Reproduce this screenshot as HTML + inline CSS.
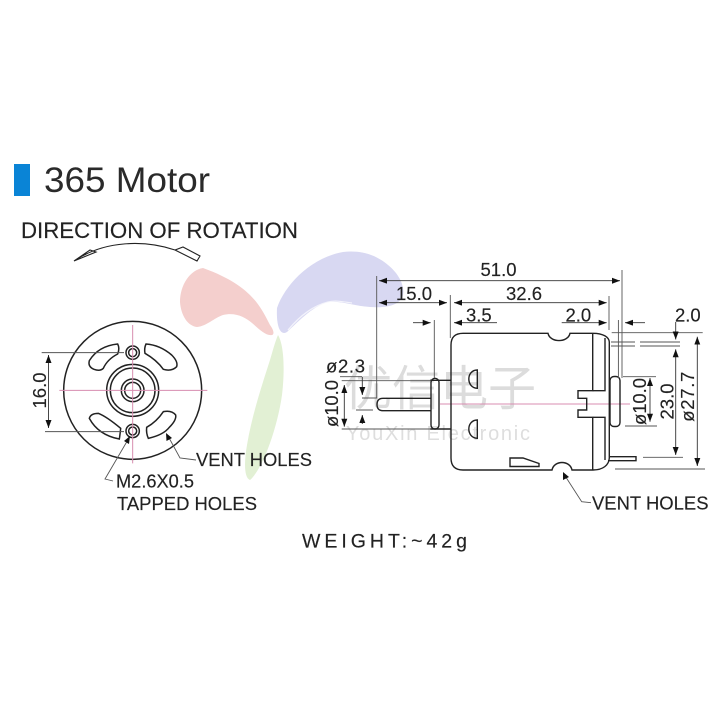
<!DOCTYPE html>
<html><head><meta charset="utf-8"><style>
html,body{margin:0;padding:0;background:#fff;width:718px;height:718px;overflow:hidden}
svg{display:block;filter:blur(.3px)}
text{font-family:"Liberation Sans","Noto Sans CJK SC",sans-serif;fill:#222}
.l{fill:none;stroke:#222;stroke-width:1.4}
.d{fill:none;stroke:#555;stroke-width:.9}
.a{fill:none;stroke:#333;stroke-width:.9;marker-end:url(#m);marker-start:url(#m)}
.e{fill:none;stroke:#333;stroke-width:.9;marker-end:url(#m)}
.p{fill:none;stroke:#d88db0;stroke-width:.9}
.t{font-size:18.500px;stroke:#222;stroke-width:.15}
.b{stroke:#222;stroke-width:.15}
</style></head><body>
<svg width="718" height="718" viewBox="0 0 718 718" xmlns="http://www.w3.org/2000/svg">
<defs>
<marker id="m" markerUnits="userSpaceOnUse" markerWidth="9" markerHeight="7" refX="8" refY="3" orient="auto-start-reverse"><path d="M0 0L8 3L0 6Z" fill="#111"/></marker>
</defs>
<!-- watermark -->
<path d="M203 268C190 270 180 285 180 302C181 316 188 326 197 327C207 326 214 318 223 315C235 312 245 317 252 323C260 330 266 336 272 335C275 334 273 329 270 325C260 305 250 285 203 268Z" fill="#f4cfcd"/>
<path d="M277 308C285 285 310 258 343 252C360 250 375 254 388 265C398 273 405 285 403 295C400 306 385 308 370 307C355 306 342 301 330 302C315 304 300 320 287 332C281 336 276 328 277 308Z" fill="#d8d8f2"/>
<path d="M288 330C298 318 312 306 328 302C336 300 344 302 352 303" fill="none" stroke="#fff" stroke-width="1.2" opacity=".7"/>
<path d="M278 335C284 345 285 370 282 395C277 430 262 470 250 480C244 478 244 462 247 445C252 415 262 385 270 360C273 350 275 342 278 335Z" fill="#e2f0d4"/>
<text x="344" y="405" style="font-size:48px;fill:#dcdcdc;">优信电子</text>
<text x="346" y="440" textLength="184" style="font-size:20px;fill:#dedede">YouXin Electronic</text>
<!-- title -->
<rect x="14" y="164" width="16" height="32" fill="#0a84d6"/>
<text x="44" y="192" textLength="166" lengthAdjust="spacingAndGlyphs" style="font-size:35px;fill:#2a2a2a">365 Motor</text>
<text class="b" x="21" y="238" textLength="277" lengthAdjust="spacingAndGlyphs" style="font-size:22px">DIRECTION OF ROTATION</text>
<path class="l" d="M74 261C105 240 145 240 175 250L183 247L200 256L197 261L175 250M74 261L90 250L96 252Z" style="stroke-width:1.1"/>
<!-- front view -->
<g transform="translate(20 320) scale(.33333)">
<g fill="none" stroke="#222" stroke-width="4.500">
<circle cx="338" cy="211" r="207"/>
<circle cx="338" cy="211" r="78"/><circle cx="338" cy="211" r="67"/>
<circle cx="338" cy="211" r="34"/><circle cx="338" cy="211" r="24"/>
<circle cx="338" cy="98" r="20"/><circle cx="338" cy="98" r="12"/>
<circle cx="338" cy="333" r="20"/><circle cx="338" cy="333" r="12"/>
<path d="M293 72Q235 78 208 122Q203 140 222 148Q240 155 250 145Q262 118 293 102Q300 85 293 72Z"/>
<path d="M378 72Q372 85 375 100Q410 120 430 148Q455 155 470 140Q475 125 455 105Q420 75 378 72Z"/>
<path d="M208 295Q212 280 235 280Q260 290 302 325Q300 345 298 357Q235 345 208 295Z"/>
<path d="M467 285Q470 300 448 322Q430 345 385 355Q378 340 380 322Q410 305 430 275Q455 270 467 285Z"/>
</g>
<path d="M338 15V430M118 211H562" fill="none" stroke="#d88db0" stroke-width="3"/>
<path d="M65 98H312M75 335H312" fill="none" stroke="#555" stroke-width="3"/>
</g>
<path class="a" d="M48.500 355V428"/>
<text class="t" transform="translate(46 408.500) rotate(-90)">16.0</text>
<path class="d" d="M196 460L180 458L168 436"/>
<path d="M166 433L166.500 441L172 438Z" fill="#111"/>
<path class="d" d="M113 481L105 479L129 438"/>
<path d="M130 436L124 441L129 444Z" fill="#111"/>
<text class="b" x="196" y="466" textLength="116" lengthAdjust="spacingAndGlyphs" style="font-size:18.500px">VENT HOLES</text>
<text class="b" x="116" y="487.500" textLength="78" lengthAdjust="spacingAndGlyphs" style="font-size:18px">M2.6X0.5</text>
<text class="b" x="117" y="510" textLength="140" lengthAdjust="spacingAndGlyphs" style="font-size:18.500px">TAPPED HOLES</text>
<text class="b" x="302" y="547.500" textLength="165" style="font-size:19.500px">WEIGHT:~42g</text>
<!-- side axis -->
<path class="p" d="M440 404H630"/>
<!-- motor body -->
<path class="l" d="M593 333.300H570C568 343 550 343 548 333.300H463Q451 333.300 451 345V458Q451 470 463 470H552C554 460 570 460 572 470H593C603 470 609 465 609.300 458V342C609 337 603 333.300 593 333.300Z"/>
<path class="l" d="M592.700 333.300V390.700H578V398.300H586.700V410H578V417.300H592.700V470"/>
<path class="l" d="M592.700 390.700H605V338M592.700 417.300H605V460"/>
<rect class="l" x="610" y="376.500" width="10" height="50" rx="4"/>
<path class="l" d="M610 456.700H636V460.700H608"/>
<path class="l" d="M430 380.300H451M430 429H451"/>
<rect class="l" x="431" y="378.300" width="8" height="50.700" rx="4"/>
<path class="l" d="M431 398.300H383Q377 398.300 377 404.500Q377 410.700 383 410.700H431"/>
<path class="l" d="M477.300 370V388.300C466 388 466 370 477.300 370ZM477.300 420V438.300C466 438 466 420 477.300 420Z"/>
<path class="l" d="M510 458H523L539 463.500V466.500H510Z"/>
<!-- extension lines -->
<path class="d" d="M376.700 276V398H362M434.300 320V378M450.300 295V338M609 296V330M622 270V378M618.400 320V378M611.700 332.700H702.700M611 342H635M640 342H680M611 346H635M640 346H680M623 376.700H656M625 426H657M643 457.300H683M615 469H705M341.700 380.700H431M341.700 429H431M356 410H373M340 376.700H362"/>
<!-- dim arrows -->
<path class="a" d="M379 280.700H620"/>
<path class="a" d="M379 302.700H447"/>
<path class="a" d="M454 302.700H606.700"/>
<path class="e" d="M497 322.700H454"/>
<path class="e" d="M561.700 322.700H606.700"/>
<path class="e" d="M413 322.700H430.700"/>
<path class="e" d="M645 322.700H625"/>
<path class="e" d="M675.700 322V339.500"/>
<path class="a" d="M675.700 349.300V455"/>
<path class="a" d="M697.300 336.700V466"/>
<path class="a" d="M650 378V421.700"/>
<path class="a" d="M344.300 385V426.700"/>
<path class="e" d="M362.300 377V395"/>
<path class="e" d="M362.300 424V415"/>
<!-- dim text -->
<text class="t" x="480.500" y="276">51.0</text>
<text class="t" x="396" y="300">15.0</text>
<text class="t" x="506" y="300">32.6</text>
<text class="t" x="466" y="321.700">3.5</text>
<text class="t" x="565.500" y="321.700">2.0</text>
<text class="t" x="675" y="321.700">2.0</text>
<text class="t" x="326" y="372.700" textLength="39">ø2.3</text>
<text class="t" transform="translate(338 427) rotate(-90)" textLength="47">ø10.0</text>
<text class="t" transform="translate(646 425) rotate(-90)" textLength="47">ø10.0</text>
<text class="t" transform="translate(673.300 419.500) rotate(-90)">23.0</text>
<text class="t" transform="translate(694 421.700) rotate(-90)" textLength="50">ø27.7</text>
<path class="d" d="M591 502.700L581.700 501.700L564.500 475"/>
<path d="M563 472L563 480L569 477Z" fill="#111"/>
<text class="b" x="592" y="509.300" textLength="116.500" lengthAdjust="spacingAndGlyphs" style="font-size:18.500px">VENT HOLES</text>
</svg>
</body></html>
